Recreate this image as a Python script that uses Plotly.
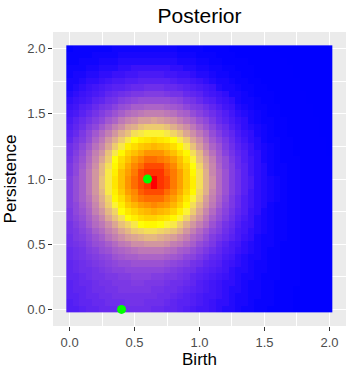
import plotly.graph_objects as go

# grid of the posterior tiles (birth, persistence), step 0.05
birth = [0.0, 0.05, 0.1, 0.15, 0.2, 0.25, 0.3, 0.35, 0.4, 0.45, 0.5, 0.55, 0.6, 0.65,
         0.7, 0.75, 0.8, 0.85, 0.9, 0.95, 1.0, 1.05, 1.1, 1.15, 1.2, 1.25, 1.3, 1.35,
         1.4, 1.45, 1.5, 1.55, 1.6, 1.65, 1.7, 1.75, 1.8, 1.85, 1.9, 1.95, 2.0]
persistence = [0.0, 0.05, 0.1, 0.15, 0.2, 0.25, 0.3, 0.35, 0.4, 0.45, 0.5, 0.55, 0.6, 0.65,
               0.7, 0.75, 0.8, 0.85, 0.9, 0.95, 1.0, 1.05, 1.1, 1.15, 1.2, 1.25, 1.3, 1.35,
               1.4, 1.45, 1.5, 1.55, 1.6, 1.65, 1.7, 1.75, 1.8, 1.85, 1.9, 1.95, 2.0]

# posterior intensity, one char per tile: level k of 0..61 (0-9a-zA-Z),
# intensity = (k/61)^2 of the max. Rows from persistence 2.0 (top) down to 0.0 (bottom)
LEVELS = "0123456789abcdefghijklmnopqrstuvwxyzABCDEFGHIJKLMNOPQRSTUVWXYZ"
posterior_rows = [
    "23333334444444444333322221111111000000000",
    "33334444555555555444333222111111100000000",
    "33444555666666666555443322221111110000000",
    "44455666778888887766554433222111111000000",
    "45566778899aaaa99887665443322111111000000",
    "5567789aabbcccccbaa9876554332211111100000",
    "56789abccdeefffeedcba98655433221111100000",
    "6789abdefghhiiihggedca9875543222111110000",
    "789acdfgijklllllkjhgecb987544322111110000",
    "89bceghjlmooppponmkihfdb98654332211111000",
    "9acegikmoqrstttsrpoljhfdb9765432211111000",
    "acegiknpsuvxxyxwvtrpmkheca875433221111100",
    "bdfiknqtvyzBCCCBzxvspmjgeb976543221111100",
    "cehknqtwzBEFGGGFDByvsplifda87543221111100",
    "dgilpswzCFHJKLKJHFCyvrnkheb97643322111110",
    "fhknruyCFJLNOPONLIFBxtpmifca8654322111110",
    "filptwBFIMOQSSSQOLIEAvrnjgdb8754322111110",
    "gjmquyCHLORTVVUTROKGBxtolheb9754322211111",
    "hknrvAEIMQTVXXXVTPMHDyupliec9764332211111",
    "hkoswAFJORUXYYYWURNIEzuqmifc9764332211111",
    "iloswBFKOSVXZZYXURNJEzvqmifca765432211111",
    "iloswBFKOSVXYZYXURNJEzvqmifca765432211111",
    "iloswAFJNRTWXXXVTQMIDzuqmifc9765432211111",
    "ilorvzDILPSUVVVTROKGCxtplheb9765432211111",
    "iknquyCGJNPRSTSRPMIEAwsokheb9764332211111",
    "hkmptwADHKMOPQPOMJGCyuqmjgdb8754332211111",
    "hjloruyBEHJLMMLKIGDzwsolifca8654332211111",
    "giknqsvyBDFHIIHGFCzwtqmjgeb98654332211111",
    "ghjloqtvyACDEEDCBzwtqnkifda97654332211111",
    "fhikmortvxyzAAzyxvtqoligeca87544332211111",
    "fghjlmoqstvvwwwvtsqoljheca976544322211111",
    "efgijlmopqrssssrqonljhfdba876543322211111",
    "efghijkmnoopppponmkjhfdca9765543322211111",
    "defghijkllmmmmmlkjigfdcb98765443322211111",
    "deffghijjkkkkkkjihgfdcba97665443322211111",
    "ddefgghhiijjjiihhgfdcba987655433322211111",
    "cdeefgghhhiihhhgffedba9877654433222211111",
    "cddeffgghhhhhggffedcba9876654433222111111",
    "ccdeeffgggggggffedcba99876554433222111111",
    "bcddeefffgggfffedccba98776554333222111111",
    "bbcddeeefffffeeddcba998766544332222111111",
]

# observed diagram points
obs_birth = [0.6, 0.4]
obs_persistence = [1.0, 0.0]

z = [[(LEVELS.index(c) / 61) ** 2 for c in row] for row in reversed(posterior_rows)]


def to_lab(h):
    rgb = [int(h[i:i + 2], 16) / 255 for i in (1, 3, 5)]
    r, g, b = [c / 12.92 if c <= 0.04045 else ((c + 0.055) / 1.055) ** 2.4 for c in rgb]
    xx = (0.4124 * r + 0.3576 * g + 0.1805 * b) / 0.95047
    yy = 0.2126 * r + 0.7152 * g + 0.0722 * b
    zz = (0.0193 * r + 0.1192 * g + 0.9505 * b) / 1.08883
    f = lambda t: t ** (1 / 3) if t > 0.008856 else 7.787 * t + 16 / 116
    fx, fy, fz = f(xx), f(yy), f(zz)
    return (116 * fy - 16, 500 * (fx - fy), 200 * (fy - fz))


def from_lab(L, a, b):
    fy = (L + 16) / 116
    fx, fz = fy + a / 500, fy - b / 200
    inv = lambda t: t ** 3 if t ** 3 > 0.008856 else (t - 16 / 116) / 7.787
    xx, yy, zz = inv(fx) * 0.95047, inv(fy), inv(fz) * 1.08883
    lin = (3.2406 * xx - 1.5372 * yy - 0.4986 * zz,
           -0.9689 * xx + 1.8758 * yy + 0.0415 * zz,
           0.0557 * xx - 0.2040 * yy + 1.0570 * zz)
    out = []
    for c in lin:
        c = min(max(c, 0), 1)
        c = 12.92 * c if c <= 0.0031308 else 1.055 * c ** (1 / 2.4) - 0.055
        out.append(round(c * 255))
    return "rgb({},{},{})".format(*out)


def lab_scale(colours, n=32):
    # ggplot-like gradientn: interpolate between the colours in Lab space
    labs = [to_lab(c) for c in colours]
    stops = []
    for s in range(len(labs) - 1):
        for k in range(n):
            t = k / n
            p = [labs[s][q] + (labs[s + 1][q] - labs[s][q]) * t for q in range(3)]
            stops.append([(s + t) / (len(labs) - 1), from_lab(*p)])
    stops.append([1.0, from_lab(*labs[-1])])
    return stops


fig = go.Figure()
fig.add_trace(go.Heatmap(x=birth, y=persistence, z=z, zmin=0, zmax=1,
                         colorscale=lab_scale(["#0000FF", "#FFFF00", "#FF0000"]),
                         showscale=False, hoverinfo="skip"))
fig.add_trace(go.Scatter(x=obs_birth, y=obs_persistence, mode="markers",
                         marker=dict(color="#00FF00", size=9), showlegend=False, hoverinfo="skip"))

ticks = [0, 0.5, 1, 1.5, 2]
tick_text = ["0.0", "0.5", "1.0", "1.5", "2.0"]
axis = dict(range=[-0.1275, 2.1275], tickvals=ticks, ticktext=tick_text, ticks="outside",
            ticklen=4, tickwidth=1.1, tickcolor="#333333", tickfont=dict(size=13, color="#4D4D4D"),
            showgrid=True, gridcolor="white", gridwidth=1.2, zeroline=False, showline=False,
            minor=dict(tickvals=[0.25, 0.75, 1.25, 1.75], showgrid=True, gridcolor="white", gridwidth=0.6))
fig.update_xaxes(**axis, title=dict(text="Birth", font=dict(size=17, color="black"), standoff=4))
fig.update_yaxes(**axis, title=dict(text="Persistence", font=dict(size=17, color="black"), standoff=6))
fig.update_layout(
    width=353, height=374,
    margin=dict(l=53, r=7, t=32, b=48),
    paper_bgcolor="white", plot_bgcolor="#EBEBEB",
    font=dict(family="Liberation Sans, Arial, sans-serif"),
    title=dict(text="Posterior", x=0.5, xref="paper", xanchor="center", y=0.957, yref="container",
               yanchor="middle", font=dict(size=21, color="black")),
    showlegend=False,
)
# drop the browser's default body margin so the 353x374 figure fills the window
fig.write_html("out.html", config={"displayModeBar": False},
               post_script="document.body.style.margin='0';")
